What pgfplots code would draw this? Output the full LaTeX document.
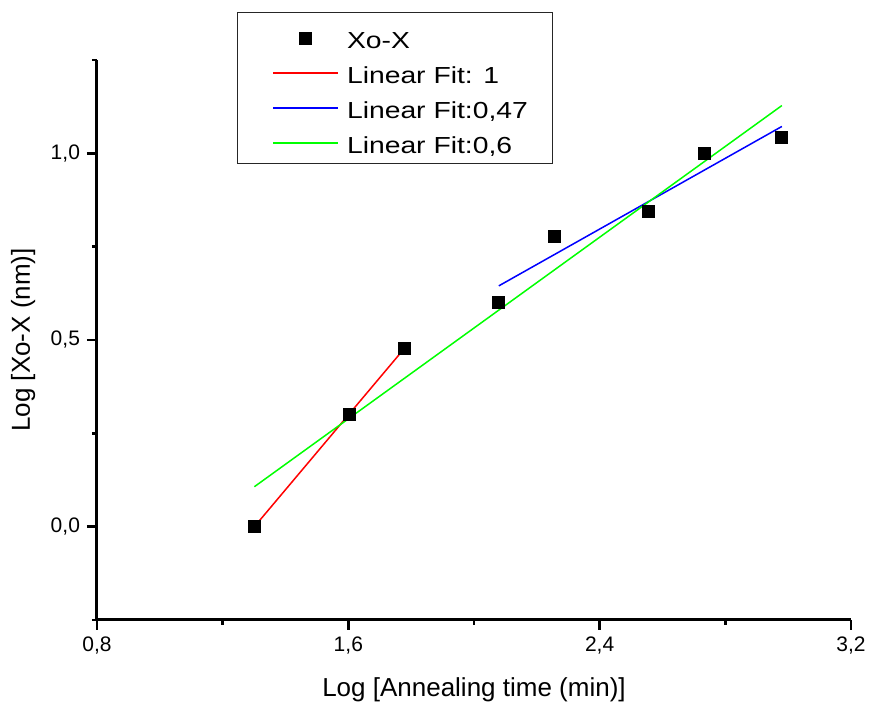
\documentclass[border=0pt]{standalone}
\usepackage{fontspec}
\setmainfont{Liberation Sans}
\newfontfamily\legfont[FakeStretch=1.22]{Liberation Sans}
\usepackage{pgfplots}
\pgfplotsset{compat=1.18}
\pgfplotsset{marklegend/.style={legend image code/.code={\path (-5pt,-1.25pt) (32.5pt,-1.25pt); \draw[##1] plot coordinates {(16.25pt,-1.25pt)};}}}
\begin{document}
\begin{tikzpicture}
\begin{axis}[
  at={(0,0)}, anchor=south west,
  scale only axis, width=377pt, height=280pt,
  xmin=0.8, xmax=3.2, ymin=-0.25, ymax=1.25,
  axis x line*=bottom, axis y line*=left,
  axis line style={line width=1.5pt, black},
  xtick={0.8,1.6,2.4,3.2}, minor xtick={1.2,2.0,2.8},
  ytick={0,0.5,1.0}, minor ytick={-0.25,0.25,0.75,1.25},
  tick align=outside, major tick length=5pt, minor tick length=2.5pt,
  major tick style={black, line width=1.4pt},
  minor tick style={black, line width=1.4pt},
  /pgf/number format/fixed, /pgf/number format/fixed zerofill,
  /pgf/number format/precision=1, /pgf/number format/use comma,
  /pgf/number format/assume math mode=true,
  tick label style={font=\fontsize{10.5}{12}\selectfont},
  xlabel={Log [Annealing time (min)]},
  ylabel={Log [Xo-X (nm)]},
  every axis x label/.style={at={(axis description cs:0.5,-0.125)}, anchor=center, font=\fontsize{13}{15}\selectfont},
  every axis y label/.style={at={(axis description cs:-0.098,0.5)}, anchor=center, rotate=90, font=\fontsize{13}{15}\selectfont},
  legend style={at={(0.1857,1.0857)}, anchor=north west, draw=black!85, line width=0.5pt,
    font=\legfont\fontsize{11.6}{13}\selectfont, inner xsep=12.5pt, inner ysep=2.75pt,
    cells={anchor=west}, nodes={inner sep=0pt, text height=15.2pt, text depth=2.3pt}, column sep=4pt, row sep=0pt},
  legend image code/.code={\path (-5pt,-1.25pt); \draw[#1] (0pt,-1.25pt) -- (32.5pt,-1.25pt);},
]
\addplot[only marks, mark=square*, mark size=3pt, black, marklegend]
  coordinates {(1.301,0.000) (1.602,0.301) (1.778,0.477) (2.079,0.602)
               (2.255,0.778) (2.556,0.845) (2.732,1.000) (2.980,1.043)};
\addlegendentry{Xo-X}
\addplot[no marks, color={rgb,255:red,255;green,0;blue,0}, line width=0.75pt]
  coordinates {(1.301,0.000) (1.778,0.477)};
\addlegendentry{Linear Fit: 1}
\addplot[no marks, color={rgb,255:red,0;green,0;blue,255}, line width=0.75pt]
  coordinates {(2.079,0.645) (2.980,1.072)};
\addlegendentry{Linear Fit:0,47}
\addplot[no marks, color={rgb,255:red,0;green,255;blue,0}, line width=0.75pt]
  coordinates {(1.301,0.107) (2.980,1.128)};
\addlegendentry{Linear Fit:0,6}
\end{axis}
\pgfresetboundingbox
\path (-48.5pt,-43pt) rectangle (388pt,310pt);
\end{tikzpicture}
\end{document}
